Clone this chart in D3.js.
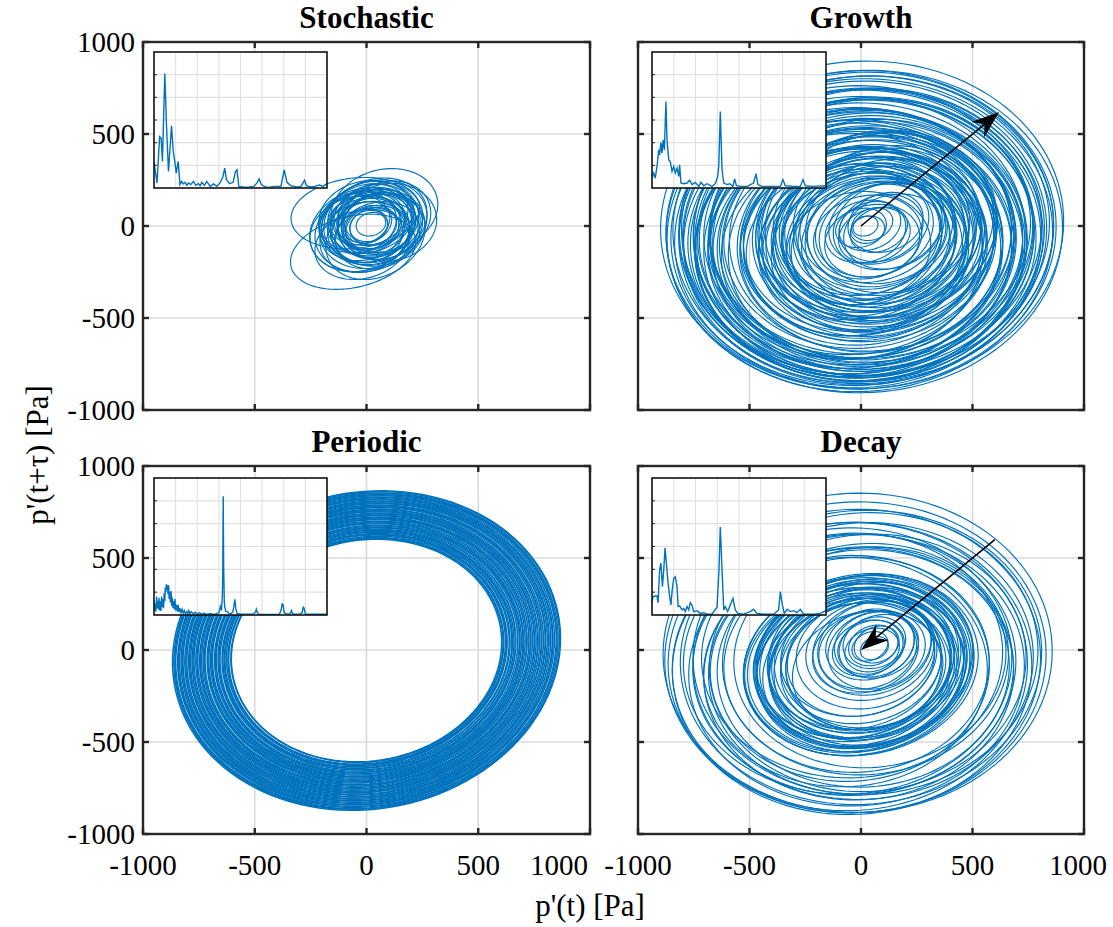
<!DOCTYPE html>
<html><head><meta charset="utf-8">
<script src="https://cdn.jsdelivr.net/npm/d3@7"></script>
<style>body{margin:0;background:#fff}</style>
</head><body>
<svg id="c" width="1113" height="927"></svg>
<script>
// ---------------- data ----------------
const titles = ["Stochastic", "Growth", "Periodic", "Decay"];
const axisTicks = [-1000, -500, 0, 500, 1000];
const xAxisLabel = "p'(t) [Pa]";
const yAxisLabel = "p'(t+τ) [Pa]";
const insetFreqTicks = [0, 1, 2, 3, 4, 5, 6, 7, 8];
const insetAmpTicks = [0, 1, 2, 3, 4, 5, 6];

// loops of each phase portrait: [centre x, centre y, semi-axis a, semi-axis b, tilt deg] in Pa
const stochasticLoops = [
 [-60,-140,290,190,20],[80,85,250,215,35],[-50,70,290,190,10],[40,-60,250,200,50],
 [-20,-100,220,180,30],[100,20,220,205,40],[20,10,230,210,45],[0,0,210,190,40],
 [30,20,200,180,45],[10,-20,190,170,35],[40,0,180,160,50],[-10,10,170,155,30],
 [20,30,160,145,45],[50,-10,220,200,40],[0,-30,240,210,35],[30,40,210,195,45],
 [-20,0,200,180,40],[60,20,170,155,50],[10,10,150,130,45],[20,-10,130,115,40],
 [0,20,120,105,45],[30,0,110,95,40],[10,0,90,80,45],[20,10,70,60,40],
 [40,30,250,210,45],[-30,-40,230,200,30],[60,40,200,185,50],[0,50,220,190,30],
 [-10,-60,210,180,40],[70,0,190,170,45],[20,-40,180,170,40],[-40,20,180,160,35],
 [50,50,160,145,45],[10,-50,160,140,40],[30,10,260,220,45],[-20,-20,250,210,40],
 [80,30,230,190,50],[0,0,100,88,45],[40,-20,140,125,45],[-30,30,140,125,40],
 [20,60,180,150,45],[50,-50,200,170,40]
];
const growthLoops = [
 [5,5,910,885,30],[0,-20,880,860,30],[10,-10,860,840,35],[-10,-40,850,820,30],
 [20,0,830,810,30],[0,-60,820,800,25],[-20,-30,800,790,30],[30,-20,790,760,35],
 [10,-80,780,760,30],[-30,-50,770,750,25],[20,-40,760,730,30],[0,-100,750,720,30],
 [-40,-80,740,720,25],[40,-10,730,700,35],[10,-120,720,700,30],[-20,-60,710,690,30],
 [30,-70,700,680,30],[-50,-100,690,670,25],[0,-30,680,660,30],[20,-110,670,650,30],
 [-30,-130,660,640,25],[50,-50,650,620,35],[0,-90,640,620,30],[-60,-110,630,610,25],
 [20,-140,620,600,30],[-10,-70,610,590,30],[40,-100,600,580,30],[-40,-150,590,570,25],
 [15,-30,895,870,30],[-5,-50,870,845,28],[25,-15,845,825,33],[-15,-70,825,805,27],
 [5,-45,810,790,30],[35,-35,795,770,33],[-25,-90,775,755,27],[15,-60,765,745,30],
 [-5,-110,745,725,30],[45,-25,735,705,35],[-35,-120,715,695,25],[25,-90,705,685,30],
 [-15,-40,695,675,30],[5,-130,675,655,30],[35,-80,665,640,33],[-45,-70,645,625,27],
 [30,-60,580,540,30],[60,-40,560,520,35],[0,-120,550,520,30],[80,0,540,500,35],
 [-20,-90,530,500,30],[50,-110,520,480,30],[100,20,510,470,40],[20,-50,500,470,30],
 [-30,-130,490,460,25],[70,-80,480,440,35],[0,-20,470,440,30],[90,-30,460,420,35],
 [40,-140,450,420,30],[-10,-100,440,400,30],[110,30,430,390,40],[60,-60,420,390,35],
 [20,-10,410,380,30],[80,-120,400,370,30],[-20,-60,390,360,30],[120,0,380,350,40],
 [40,-90,370,340,35],[0,-40,360,330,30],[90,-70,350,320,35],[50,10,340,300,40],
 [-10,-120,330,300,30],[70,-30,320,290,35],
 [40,-80,575,540,30],[70,-20,555,515,35],[10,-100,545,515,30],[90,10,535,495,38],
 [-10,-70,525,495,30],[60,-90,515,480,33],[30,-30,495,465,30],[80,-60,485,450,35],
 [10,-110,475,445,30],[100,-10,455,420,38],[50,-50,445,410,33],[0,-80,435,400,30],
 [70,-100,415,385,33],[30,-20,405,375,33],[100,-50,395,360,38],[20,-70,385,350,30],
 [60,0,365,330,38],[80,-90,355,325,33],[30,-50,345,310,35],
 [100,-40,300,260,35],[60,-20,280,240,40],[120,0,260,220,40],[30,-60,250,220,30],
 [80,10,240,200,40],[140,-30,230,190,35],[50,-80,220,190,30],[90,-10,200,170,40],
 [20,-30,190,160,35],[110,20,180,150,40],[60,-50,170,140,35],[40,0,150,120,40],
 [80,-20,140,110,40],[0,-10,120,100,35],[50,10,100,80,40],[30,-20,80,70,40],[20,0,60,50,40]
];
const periodicLoops = [
 [0,-3,627,582,45],[2,-2,631,586,45],[-1,-4,638,592,45],[1,-3,644,597,45],[0,-1,649,603,45],
 [-2,-3,655,607,45],[1,-4,661,613,45],[0,-2,666,618,45],[2,-3,672,624,45],[-1,-3,679,629,45],
 [0,-4,684,635,45],[1,-2,690,640,45],[-2,-3,695,645,45],[0,-3,702,651,45],[2,-4,707,656,45],
 [-1,-2,713,662,45],[0,-3,718,667,45],[1,-3,725,672,45],[-1,-4,730,678,45],[0,-2,736,683,45],
 [2,-3,741,688,45],[-2,-3,747,693,45],[0,-4,753,699,45],[1,-2,759,704,45],[-1,-3,764,709,45],
 [0,-3,770,715,45],[2,-4,776,720,45],[-1,-2,781,725,45],[0,-3,787,730,45],[1,-3,793,736,45],
 [-2,-4,798,741,45],[0,-2,804,746,45],[1,-3,810,752,45],[-1,-3,815,756,45],[0,-4,821,762,45],
 [2,-2,827,767,45],[-1,-3,832,772,45],[0,-3,838,778,45],[1,-4,844,783,45],[-2,-2,849,788,45],
 [0,-3,855,793,45],[1,-3,861,799,45],[-1,-4,866,804,45],[0,-2,872,809,45],[2,-3,878,815,45],
 [-1,-3,884,820,45],[0,-4,889,825,45],[1,-3,895,830,45],[0,-3,900,835,45]
];
const decayLoops = [
 [-15,-15,875,865,30],[-30,-60,840,820,30],[0,-40,820,790,35],[-50,-90,800,780,25],
 [20,-20,780,760,35],[-20,-110,760,730,30],[-60,-60,740,720,25],[30,-70,720,690,35],
 [-10,-130,700,680,30],[-40,-30,680,660,30],[10,-100,660,640,30],[-70,-120,640,620,25],
 [40,-40,620,590,35],[-20,-80,600,580,30],
 [-25,-40,860,840,30],[-40,-100,810,790,27],[10,-60,770,745,33],[-30,-80,730,705,28],
 [0,-110,690,665,30],[20,-50,650,620,33],[-50,-100,630,610,27],
 [0,-80,540,480,30],[-20,-90,520,470,30],[10,-60,510,450,35],[-30,-100,500,450,25],
 [20,-70,490,440,35],[0,-110,480,430,30],[-10,-50,470,420,30],[30,-90,460,410,35],
 [-40,-80,450,410,25],[10,-40,440,400,35],[-20,-120,430,390,30],[20,-100,420,380,30],
 [0,-70,410,370,30],[-30,-60,400,360,30],[40,-60,390,350,35],[10,-90,380,340,30],
 [-10,-30,360,320,30],[30,-110,350,310,35],[0,-50,340,300,30],[20,-20,320,290,35],
 [-10,-85,530,475,30],[15,-65,505,455,33],[-25,-95,495,445,28],[5,-75,485,435,32],
 [-15,-105,465,420,30],[25,-55,455,405,35],[-35,-70,445,400,27],[5,-95,425,385,30],
 [15,-45,415,375,33],[-25,-110,395,355,30],[35,-75,385,345,35],[0,-60,370,330,30],
 [40,0,300,260,35],[60,20,270,230,40],[20,-10,250,210,35],[70,0,230,200,40],
 [40,30,210,180,40],[80,20,190,160,40],[30,10,170,140,40],[60,40,150,130,45],
 [50,0,130,110,40],[70,30,110,90,45],[40,20,90,70,45],[60,10,70,55,45],
 [50,10,280,240,38],[30,0,230,200,38],[60,30,190,165,42],[45,15,160,135,42],[55,25,120,100,45]
];

// inset spectra: [frequency (grid units), amplitude (grid units)]
const stochasticSpectrum = [
 [0,1.17],[0.14,0.22],[0.26,2.27],[0.33,2.2],[0.39,1.17],[0.5,5.05],[0.58,2.7],[0.67,0.73],
 [0.81,2.74],[0.89,1.61],[0.95,1.24],[1.03,0.66],[1.12,1.17],[1.2,0.15],[1.28,0.29],[1.35,0.18],
 [1.43,0.25],[1.52,0.12],[1.59,0.22],[1.7,0.15],[1.82,0.29],[1.93,0.12],[2.05,0.19],[2.13,0.1],
 [2.21,0.25],[2.33,0.12],[2.44,0.29],[2.6,0.07],[2.75,0.18],[2.91,0.07],[3.07,0.25],[3.19,0.51],
 [3.27,0.88],[3.35,0.37],[3.5,0.19],[3.66,0.25],[3.77,0.73],[3.84,0.8],[3.92,0.07],[4.16,0.04],
 [4.4,0.05],[4.62,0.07],[4.78,0.25],[4.86,0.4],[4.96,0.15],[5.17,0.04],[5.4,0.05],[5.56,0.07],
 [5.87,0.07],[6.02,0.8],[6.15,0.25],[6.33,0.1],[6.6,0.05],[6.8,0.07],[6.96,0.34],[7.05,0.1],
 [7.25,0.05],[7.42,0.07],[7.66,0.13],[7.81,0.07],[8,0.19]
];
const growthSpectrum = [
 [0,0.44],[0.08,0.66],[0.15,0.44],[0.23,0.95],[0.31,1.68],[0.35,1.46],[0.41,2.0],[0.46,1.54],
 [0.51,2.12],[0.57,1.68],[0.64,3.81],[0.69,2.12],[0.77,1.24],[0.84,1.17],[0.92,0.73],[1.0,0.95],
 [1.07,0.66],[1.15,0.88],[1.23,0.51],[1.27,1.02],[1.33,0.22],[1.46,0.19],[1.61,0.22],[1.73,0.34],
 [1.84,0.15],[1.99,0.25],[2.15,0.07],[2.25,0.25],[2.38,0.1],[2.53,0.19],[2.76,0.07],[2.91,0.19],
 [3.02,0.51],[3.07,0.95],[3.14,3.37],[3.22,0.81],[3.3,0.22],[3.45,0.15],[3.57,0.19],[3.72,0.07],
 [3.8,0.4],[3.88,0.1],[4.06,0.07],[4.37,0.07],[4.67,0.22],[4.78,0.63],[4.87,0.15],[5.06,0.07],
 [5.59,0.07],[5.9,0.07],[6.02,0.37],[6.13,0.1],[6.51,0.07],[6.82,0.07],[6.94,0.37],[7.05,0.1],
 [7.43,0.07],[8,0.1]
];
const periodicSpectrum = [
 [0,0.66],[0.03,0.2],[0.06,0.5],[0.09,0.15],[0.12,0.81],[0.15,0.3],[0.18,0.6],[0.2,0.25],
 [0.23,0.75],[0.26,0.2],[0.29,0.6],[0.32,0.18],[0.35,0.8],[0.38,0.35],[0.41,0.7],[0.44,0.3],
 [0.47,0.95],[0.5,0.6],[0.52,1.2],[0.55,1.0],[0.57,1.35],[0.6,1.15],[0.62,1.3],[0.65,0.9],
 [0.68,1.3],[0.7,0.7],[0.73,1.0],[0.76,0.55],[0.79,1.05],[0.82,0.4],[0.85,0.75],[0.88,0.3],
 [0.91,0.6],[0.94,0.25],[0.97,0.7],[1.0,0.2],[1.04,0.45],[1.08,0.15],[1.12,0.44],[1.16,0.12],
 [1.2,0.3],[1.25,0.1],[1.3,0.25],[1.35,0.08],[1.4,0.2],[1.45,0.06],[1.51,0.15],[1.56,0.05],
 [1.61,0.2],[1.66,0.06],[1.72,0.15],[1.81,0.05],[1.9,0.12],[2.0,0.04],[2.1,0.1],[2.2,0.04],
 [2.3,0.08],[2.45,0.03],[2.6,0.07],[2.75,0.03],[2.9,0.06],[3.0,0.1],[3.07,0.37],[3.12,0.2],
 [3.16,0.81],[3.18,2.0],[3.2,5.2],[3.22,2.2],[3.23,1.68],[3.25,0.6],[3.27,0.37],[3.32,0.15],
 [3.38,0.15],[3.48,0.06],[3.58,0.07],[3.65,0.15],[3.69,0.37],[3.74,0.69],[3.78,0.3],[3.84,0.07],
 [4.0,0.04],[4.3,0.04],[4.6,0.04],[4.7,0.15],[4.73,0.25],[4.78,0.1],[4.85,0.04],[5.2,0.02],
 [5.5,0.02],[5.8,0.04],[5.88,0.22],[5.93,0.48],[5.97,0.45],[6.02,0.1],[6.1,0.06],[6.27,0.04],
 [6.33,0.12],[6.36,0.19],[6.4,0.06],[6.5,0.04],[6.73,0.04],[6.85,0.1],[6.9,0.34],[6.94,0.3],
 [7.0,0.04],[7.5,0.03],[8,0.03]
];
const decaySpectrum = [
 [0,0.59],[0.05,0.81],[0.15,0.83],[0.23,0.83],[0.28,0.54],[0.35,1.98],[0.41,2.27],[0.48,1.24],
 [0.54,1.98],[0.6,2.93],[0.66,2.27],[0.74,1.39],[0.81,0.81],[0.87,0.44],[0.93,1.1],[1.0,1.61],
 [1.07,1.68],[1.15,1.24],[1.2,0.37],[1.27,0.4],[1.38,0.22],[1.46,0.29],[1.53,0.15],[1.61,0.37],
 [1.69,0.22],[1.76,0.54],[1.84,0.44],[1.92,0.15],[2.07,0.19],[2.22,0.07],[2.38,0.1],[2.53,0.04],
 [2.76,0.04],[2.99,0.34],[3.08,1.98],[3.14,3.85],[3.22,1.98],[3.3,0.22],[3.37,0.37],[3.48,0.15],
 [3.6,0.44],[3.72,0.73],[3.83,0.22],[3.94,0.07],[4.21,0.04],[4.52,0.15],[4.67,0.25],[4.83,0.07],
 [5.13,0.03],[5.59,0.03],[5.82,0.22],[5.9,1.02],[5.98,0.51],[6.08,0.07],[6.21,0.25],[6.36,0.15],
 [6.51,0.19],[6.67,0.1],[6.82,0.25],[6.97,0.04],[7.43,0.04],[7.74,0.07],[8,0.19]
];

// arrows (Pa): [from, to]
const growthArrow = [[0, 0], [620, 620]];
const decayArrow = [[600, 600], [0, 0]];

// ---------------- drawing ----------------
const svg = d3.select("#c");
const BLUE = "#0072BD";
const FONT = "'Liberation Serif','Times New Roman',serif";
const TICK_FS = 29, TITLE_FS = 31, LABEL_FS = 31;

const panels = [
  {title: titles[0], loops: stochasticLoops, spec: stochasticSpectrum, arrow: null,
   box: [143, 42, 590, 410], inset: [154, 52, 327, 188], yLab: true, xLab: false},
  {title: titles[1], loops: growthLoops, spec: growthSpectrum, arrow: growthArrow,
   box: [638, 42, 1084, 410], inset: [652, 52, 826, 188], yLab: false, xLab: false},
  {title: titles[2], loops: periodicLoops, spec: periodicSpectrum, arrow: null,
   box: [143, 466, 590, 834], inset: [154, 478, 327, 615], yLab: true, xLab: true, lastShift: -31},
  {title: titles[3], loops: decayLoops, spec: decaySpectrum, arrow: decayArrow,
   box: [638, 466, 1084, 834], inset: [652, 478, 826, 615], yLab: false, xLab: true, lastShift: -6}
];

const defs = svg.append("defs");
const theta = d3.range(0, 361, 3).map(d => d * Math.PI / 180);

panels.forEach((p, i) => {
  const [x0, y0, x1, y1] = p.box;
  const xs = d3.scaleLinear().domain([-1000, 1000]).range([x0, x1]);
  const ys = d3.scaleLinear().domain([-1000, 1000]).range([y1, y0]);
  const g = svg.append("g");

  defs.append("clipPath").attr("id", "clip" + i).append("rect")
    .attr("x", x0).attr("y", y0).attr("width", x1 - x0).attr("height", y1 - y0);

  // grid
  g.append("g").selectAll("line").data(axisTicks.slice(1, -1)).join("line")
    .attr("x1", d => xs(d)).attr("x2", d => xs(d)).attr("y1", y0).attr("y2", y1)
    .attr("stroke", "#dadada").attr("stroke-width", 1.6);
  g.append("g").selectAll("line").data(axisTicks.slice(1, -1)).join("line")
    .attr("y1", d => ys(d)).attr("y2", d => ys(d)).attr("x1", x0).attr("x2", x1)
    .attr("stroke", "#dadada").attr("stroke-width", 1.6);

  // phase portrait loops
  const line = d3.line().x(d => xs(d[0])).y(d => ys(d[1]));
  g.append("g").attr("clip-path", `url(#clip${i})`)
    .selectAll("path").data(p.loops).join("path")
    .attr("d", L => {
      const [cx, cy, a, b, t] = L;
      const al = t * Math.PI / 180;
      return line(theta.map(th => [
        cx + a * Math.cos(th) * Math.cos(al) - b * Math.sin(th) * Math.sin(al),
        cy + a * Math.cos(th) * Math.sin(al) + b * Math.sin(th) * Math.cos(al)
      ]));
    })
    .attr("fill", "none").attr("stroke", BLUE).attr("stroke-width", i === 2 ? 1.5 : 1.15);

  // arrow
  if (p.arrow) {
    const [[ax0, ay0], [ax1, ay1]] = p.arrow;
    const X0 = xs(ax0), Y0 = ys(ay0), X1 = xs(ax1), Y1 = ys(ay1);
    const ang = Math.atan2(Y1 - Y0, X1 - X0);
    const len = 28, half = 10, back = 19;
    const ca = Math.cos(ang), sa = Math.sin(ang);
    const bx = X1 - len * ca, by = Y1 - len * sa;
    const nx = X1 - back * ca, ny = Y1 - back * sa;
    g.append("line").attr("x1", X0).attr("y1", Y0).attr("x2", nx).attr("y2", ny)
      .attr("stroke", "#000").attr("stroke-width", 1.6);
    g.append("path")
      .attr("d", `M${X1},${Y1}L${bx - half * sa},${by + half * ca}L${nx},${ny}L${bx + half * sa},${by - half * ca}Z`)
      .attr("fill", "#000");
  }

  // box + ticks
  g.append("rect").attr("x", x0).attr("y", y0).attr("width", x1 - x0).attr("height", y1 - y0)
    .attr("fill", "none").attr("stroke", "#262626").attr("stroke-width", 2.4);
  const tk = 6;
  axisTicks.forEach(t => {
    g.append("line").attr("x1", xs(t)).attr("x2", xs(t)).attr("y1", y1).attr("y2", y1 - tk).attr("stroke", "#262626").attr("stroke-width", 2.4);
    g.append("line").attr("x1", xs(t)).attr("x2", xs(t)).attr("y1", y0).attr("y2", y0 + tk).attr("stroke", "#262626").attr("stroke-width", 2.4);
    g.append("line").attr("y1", ys(t)).attr("y2", ys(t)).attr("x1", x0).attr("x2", x0 + tk).attr("stroke", "#262626").attr("stroke-width", 2.4);
    g.append("line").attr("y1", ys(t)).attr("y2", ys(t)).attr("x1", x1).attr("x2", x1 - tk).attr("stroke", "#262626").attr("stroke-width", 2.4);
  });

  if (p.yLab) {
    g.append("g").selectAll("text").data(axisTicks).join("text")
      .attr("x", x0 - 8).attr("y", d => ys(d)).attr("dy", "0.34em")
      .attr("text-anchor", "end").attr("font-family", FONT).attr("font-size", TICK_FS).attr("fill", "#000")
      .text(d => d);
  }
  if (p.xLab) {
    g.append("g").selectAll("text").data(axisTicks).join("text")
      .attr("x", (d, k) => xs(d) + (k === axisTicks.length - 1 ? p.lastShift : 0)).attr("y", y1 + 41)
      .attr("text-anchor", "middle").attr("font-family", FONT).attr("font-size", TICK_FS).attr("fill", "#000")
      .text(d => d);
  }

  // title
  g.append("text").attr("x", (x0 + x1) / 2).attr("y", y0 - 14)
    .attr("text-anchor", "middle").attr("font-family", FONT).attr("font-weight", "bold")
    .attr("font-size", TITLE_FS).attr("fill", "#000").text(p.title);

  // inset
  const [ix0, iy0, ix1, iy1] = p.inset;
  const fx = d3.scaleLinear().domain([0, 8]).range([ix0, ix1]);
  const fy = d3.scaleLinear().domain([0, 6]).range([iy1, iy0]);
  const ig = svg.append("g");
  defs.append("clipPath").attr("id", "iclip" + i).append("rect")
    .attr("x", ix0).attr("y", iy0).attr("width", ix1 - ix0).attr("height", iy1 - iy0);
  ig.append("rect").attr("x", ix0).attr("y", iy0).attr("width", ix1 - ix0).attr("height", iy1 - iy0).attr("fill", "#fff");
  ig.append("g").selectAll("line").data(insetFreqTicks.slice(1, -1)).join("line")
    .attr("x1", d => fx(d)).attr("x2", d => fx(d)).attr("y1", iy0).attr("y2", iy1)
    .attr("stroke", "#e0e0e0").attr("stroke-width", 1.1);
  ig.append("g").selectAll("line").data(insetAmpTicks.slice(1, -1)).join("line")
    .attr("y1", d => fy(d)).attr("y2", d => fy(d)).attr("x1", ix0).attr("x2", ix1)
    .attr("stroke", "#e0e0e0").attr("stroke-width", 1.1);
  ig.append("g").selectAll("line").data(insetAmpTicks.slice(1, -1)).join("line")
    .attr("y1", d => fy(d)).attr("y2", d => fy(d)).attr("x1", ix0).attr("x2", ix0 + 3)
    .attr("stroke", "#262626").attr("stroke-width", 1);
  ig.append("path").attr("clip-path", `url(#iclip${i})`)
    .attr("d", d3.line().x(d => fx(d[0])).y(d => fy(d[1]))(p.spec))
    .attr("fill", "none").attr("stroke", BLUE).attr("stroke-width", 1.4);
  ig.append("rect").attr("x", ix0).attr("y", iy0).attr("width", ix1 - ix0).attr("height", iy1 - iy0)
    .attr("fill", "none").attr("stroke", "#111").attr("stroke-width", 1.6);
});

// shared axis labels
svg.append("text").attr("x", 590).attr("y", 916).attr("text-anchor", "middle")
  .attr("font-family", FONT).attr("font-size", LABEL_FS).attr("fill", "#000").text(xAxisLabel);
svg.append("text").attr("transform", "translate(48,455) rotate(-90)").attr("text-anchor", "middle")
  .attr("font-family", FONT).attr("font-size", LABEL_FS).attr("fill", "#000").text(yAxisLabel);
</script>
</body></html>
